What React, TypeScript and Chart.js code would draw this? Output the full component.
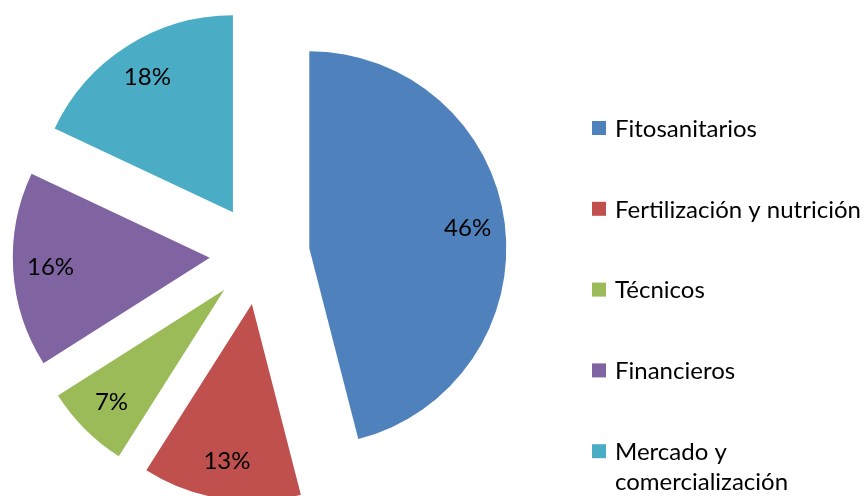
import { useEffect, useRef } from "react";
import { Chart, registerables } from "chart.js";

Chart.register(...registerables);

const categories = [
  "Fitosanitarios",
  "Fertilización y nutrición",
  "Técnicos",
  "Financieros",
  "Mercado y comercialización",
];
const legendLines = [
  ["Fitosanitarios"],
  ["Fertilización y nutrición"],
  ["Técnicos"],
  ["Financieros"],
  ["Mercado y", "comercialización"],
];
const values = [46, 13, 7, 16, 18];
const colors = ["#4F81BD", "#C0504D", "#9BBB59", "#8064A2", "#4BACC6"];

const W = 867;
const H = 496;
const RADIUS = 197;
const EXPLODE = 50;
const CX = 259.7;
const CY = 254.5;
const LABEL_FRAC = 0.81;
const FONT = "Lato, 'Open Sans', sans-serif";
const FONT_SIZE = 24;

const LEGEND_X = 592;
const LEGEND_BOX = 14;
const LEGEND_TEXT_X = 615;
const LEGEND_Y0 = 128;
const LEGEND_STEP = 80.8;
const LEGEND_LINE = 30;

const explodePlugin = {
  id: "explodePie",
  beforeDatasetDraw(chart: any, args: any) {
    const meta = chart.getDatasetMeta(args.index);
    const ctx = chart.ctx;
    meta.data.forEach((arc: any) => {
      const p = arc.getProps(["startAngle", "endAngle"], true);
      const mid = (p.startAngle + p.endAngle) / 2;
      ctx.save();
      ctx.translate(Math.cos(mid) * EXPLODE, Math.sin(mid) * EXPLODE);
      arc.draw(ctx);
      ctx.restore();
    });
    return false;
  },
  afterDatasetsDraw(chart: any) {
    const ctx = chart.ctx;
    const meta = chart.getDatasetMeta(0);
    ctx.save();
    ctx.font = `${FONT_SIZE}px ${FONT}`;
    ctx.fillStyle = "#000000";
    ctx.textAlign = "center";
    ctx.textBaseline = "middle";
    meta.data.forEach((arc: any, i: number) => {
      const p = arc.getProps(["x", "y", "startAngle", "endAngle", "outerRadius"], true);
      const mid = (p.startAngle + p.endAngle) / 2;
      const d = EXPLODE + p.outerRadius * LABEL_FRAC;
      const x = p.x + Math.cos(mid) * d;
      const y = p.y + Math.sin(mid) * d;
      ctx.fillText(`${values[i]}%`, x, y);
    });
    // legend
    ctx.textAlign = "left";
    legendLines.forEach((lines, i) => {
      const cy = LEGEND_Y0 + i * LEGEND_STEP;
      ctx.fillStyle = colors[i];
      ctx.fillRect(LEGEND_X, cy - LEGEND_BOX / 2, LEGEND_BOX, LEGEND_BOX);
      ctx.fillStyle = "#000000";
      lines.forEach((line, j) => {
        ctx.fillText(line, LEGEND_TEXT_X, cy + j * LEGEND_LINE + 1);
      });
    });
    ctx.restore();
  },
};

export default function App() {
  const ref = useRef<HTMLCanvasElement | null>(null);
  useEffect(() => {
    if (!ref.current) return;
    const chart = new Chart(ref.current, {
      type: "pie",
      data: {
        labels: categories,
        datasets: [
          {
            data: values,
            backgroundColor: colors,
            borderWidth: 0,
          },
        ],
      },
      options: {
        responsive: false,
        animation: false,
        radius: RADIUS,
        layout: {
          padding: {
            left: 0,
            top: CY - (H - CY),
            right: W - 2 * CX,
            bottom: 0,
          },
        },
        plugins: {
          legend: { display: false },
          tooltip: { enabled: false },
        },
      } as any,
      plugins: [explodePlugin],
    });
    return () => chart.destroy();
  }, []);
  return (
    <div style={{ position: "absolute", left: 0, top: 0, width: W, height: H, background: "#fff" }}>
      <canvas ref={ref} width={W} height={H} style={{ display: "block" }} />
    </div>
  );
}
